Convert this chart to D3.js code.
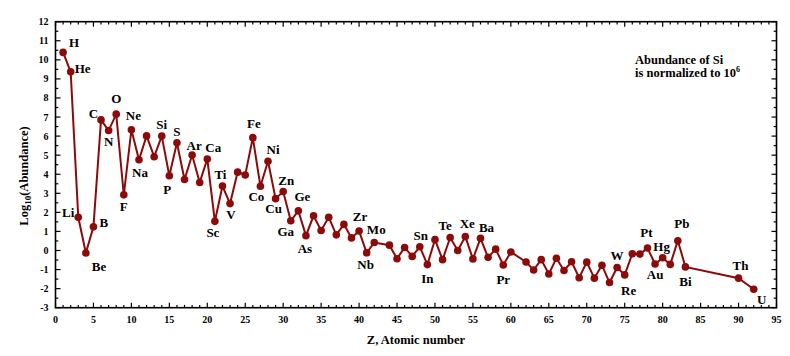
<!DOCTYPE html>
<html><head><meta charset="utf-8">
<script src="https://cdn.jsdelivr.net/npm/d3@7"></script>
<style>body{margin:0;background:#fff}svg{display:block}text{font-family:"Liberation Serif","Times New Roman",serif;font-weight:bold}</style>
</head><body><svg id="c" width="790" height="356"></svg>
<script>
// Data (log10 abundance, Si = 10^6)
const Z = [1,2,3,4,5,6,7,8,9,10,11,12,13,14,15,16,17,18,19,20,21,22,23,24,25,26,27,28,29,30,31,32,33,34,35,36,37,38,39,40,41,42,44,45,46,47,48,49,50,51,52,53,54,55,56,57,58,59,60,62,63,64,65,66,67,68,69,70,71,72,73,74,75,76,77,78,79,80,81,82,83,90,92];
const symbols = ["H","He","Li","Be","B","C","N","O","F","Ne","Na","Mg","Al","Si","P","S","Cl","Ar","K","Ca","Sc","Ti","V","Cr","Mn","Fe","Co","Ni","Cu","Zn","Ga","Ge","As","Se","Br","Kr","Rb","Sr","Y","Zr","Nb","Mo","Ru","Rh","Pd","Ag","Cd","In","Sn","Sb","Te","I","Xe","Cs","Ba","La","Ce","Pr","Nd","Sm","Eu","Gd","Tb","Dy","Ho","Er","Tm","Yb","Lu","Hf","Ta","W","Re","Os","Ir","Pt","Au","Hg","Tl","Pb","Bi","Th","U"];
const logAbundance = [10.39,9.37,1.74,-0.13,1.24,6.85,6.29,7.15,2.92,6.33,4.76,6.01,4.92,6.00,3.92,5.65,3.72,5.01,3.57,4.80,1.53,3.38,2.46,4.11,3.96,5.92,3.37,4.68,2.72,3.09,1.56,2.08,0.78,1.82,1.05,1.74,0.82,1.37,0.66,1.02,-0.12,0.42,0.28,-0.43,0.16,-0.31,0.20,-0.74,0.57,-0.48,0.68,0.00,0.73,-0.44,0.64,-0.36,0.07,-0.76,-0.08,-0.60,-1.02,-0.48,-1.23,-0.41,-1.05,-0.59,-1.43,-0.61,-1.45,-0.77,-1.68,-0.89,-1.28,-0.17,-0.19,0.13,-0.71,-0.38,-0.73,0.51,-0.86,-1.45,-2.03];
const labeled = ["H","He","Li","Be","B","C","N","O","F","Ne","Na","Si","P","S","Ar","Ca","Sc","Ti","V","Fe","Co","Ni","Cu","Zn","Ga","Ge","As","Zr","Nb","Mo","Sn","In","Te","Xe","Ba","Pr","W","Re","Pt","Au","Hg","Pb","Bi","Th","U"];
const xTicks = [0,5,10,15,20,25,30,35,40,45,50,55,60,65,70,75,80,85,90,95];
const yTicks = [-3,-2,-1,0,1,2,3,4,5,6,7,8,9,10,11,12];

// Layout: label offsets [anchor, dx, dy]
const labelPos = {
 H:["start",6,-5],He:["start",4,1],Li:["end",-4,0],Be:["start",6,18],B:["start",6,0],
 C:["end",-3,-2],N:["middle",0,15],O:["middle",0,-11],F:["middle",0,16],Ne:["middle",2,-10],
 Na:["middle",1,17],Si:["middle",0,-7],P:["middle",-2,18],S:["middle",0,-7],Ar:["middle",2,-5],
 Ca:["middle",6,-7],Sc:["middle",-2,16],Ti:["middle",-2,-7],V:["middle",1,15],Fe:["middle",1,-10],
 Co:["middle",-4,15],Ni:["middle",5,-7],Cu:["middle",-2,14],Zn:["middle",3,-7],Ga:["middle",-5,15],
 Ge:["middle",4,-10],As:["middle",-1,17],Zr:["middle",1,-10],Nb:["middle",-1,16],Mo:["middle",2,-8],
 Sn:["end",-7,0],In:["middle",0,18],Te:["middle",-5,-8],Xe:["middle",2,-9],Ba:["middle",6,-6],
 Pr:["middle",0,19],W:["middle",0,-7],Re:["middle",4,20],Pt:["middle",-1,-11],Au:["middle",0,15],
 Hg:["middle",-1,-7],Pb:["middle",4,-13],Bi:["middle",0,19],Th:["middle",2,-8],U:["middle",8,15]
};

const svg = d3.select("#c");
const L=55.5, R=776.5, T=21.7, B=307.7;
const x = d3.scaleLinear().domain([0,95]).range([L,R]);
const y = d3.scaleLinear().domain([-3,12]).range([B,T]);
const color = "#8b0a0a";

// ticks
const g = svg.append("g").attr("stroke","#000").attr("stroke-width",1.2);
d3.range(0,96,1).forEach(v=>{
  const len = v%5===0?5:2.8;
  g.append("line").attr("x1",x(v)).attr("x2",x(v)).attr("y1",B).attr("y2",B-len);
  g.append("line").attr("x1",x(v)).attr("x2",x(v)).attr("y1",T).attr("y2",T+len);
});
d3.range(-3,12.01,0.5).forEach(v=>{
  const len = Math.abs(v-Math.round(v))<1e-6?5:2.8;
  g.append("line").attr("y1",y(v)).attr("y2",y(v)).attr("x1",L).attr("x2",L+len);
  g.append("line").attr("y1",y(v)).attr("y2",y(v)).attr("x1",R).attr("x2",R-len);
});
svg.append("rect").attr("x",L).attr("y",T).attr("width",R-L).attr("height",B-T)
  .attr("fill","none").attr("stroke","#000").attr("stroke-width",1.6);

svg.selectAll(".xt").data(xTicks).join("text").attr("x",d=>x(d)).attr("y",B+15)
  .attr("text-anchor","middle").attr("font-size",10).text(d=>d);
svg.selectAll(".yt").data(yTicks).join("text").attr("x",L-7).attr("y",d=>y(d)+3.5)
  .attr("text-anchor","end").attr("font-size",10).text(d=>d);

// axis titles
svg.append("text").attr("x",(L+R)/2).attr("y",344).attr("text-anchor","middle")
  .attr("font-size",12.5).text("Z, Atomic number");
const yt = svg.append("text").attr("transform",`translate(28,176) rotate(-90)`)
  .attr("text-anchor","middle").attr("font-size",12.5);
yt.append("tspan").text("Log");
yt.append("tspan").attr("font-size",9).attr("dy",3).text("10");
yt.append("tspan").attr("dy",-3).text("(Abundance)");

// annotation
svg.append("text").attr("x",635).attr("y",64).attr("font-size",12.5).text("Abundance of Si");
const an = svg.append("text").attr("x",635).attr("y",77).attr("font-size",12.5);
an.append("tspan").text("is normalized to 10");
an.append("tspan").attr("font-size",8).attr("dy",-5).text("6");

// data
const data = Z.map((z,i)=>({z, s:symbols[i], v:logAbundance[i]}));
svg.append("path").datum(data).attr("fill","none").attr("stroke",color).attr("stroke-width",2)
  .attr("d", d3.line().x(d=>x(d.z)).y(d=>y(d.v)));
svg.selectAll(".pt").data(data).join("circle").attr("cx",d=>x(d.z)).attr("cy",d=>y(d.v))
  .attr("r",3.8).attr("fill",color);

const lab = data.filter(d=>labeled.includes(d.s));
svg.selectAll(".lb").data(lab).join("text")
  .attr("x",d=>x(d.z)+labelPos[d.s][1]).attr("y",d=>y(d.v)+labelPos[d.s][2])
  .attr("text-anchor",d=>labelPos[d.s][0]).attr("font-size",13).text(d=>d.s);
</script></body></html>
